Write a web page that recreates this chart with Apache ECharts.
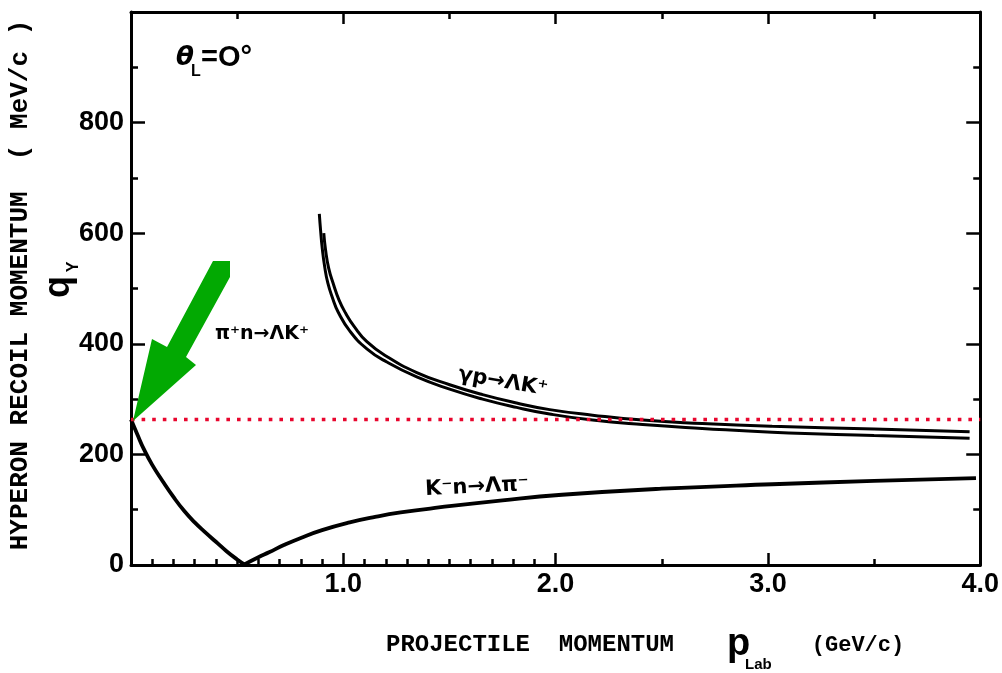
<!DOCTYPE html>
<html><head><meta charset="utf-8">
<script src="https://cdn.jsdelivr.net/npm/echarts@6/dist/echarts.min.js"></script>
<style>html,body{margin:0;padding:0;background:#fff}#c{width:1002px;height:673px}</style>
</head><body><div id="c"></div>
<script>
// ---- data ----
// K- n -> Lambda pi-
const kn_p = [0.00,0.03,0.06,0.10,0.15,0.20,0.25,0.30,0.35,0.40,0.45,0.50,0.534,0.60,0.65,0.72,0.80,0.90,1.03,1.15,1.27,1.45,1.75,2.03,2.50,3.02,3.50,3.98];
const kn_q = [263,236,210,181,151,123,98,77,59,42,25,10,1,14,23,36,49,63,77,87,95,104,117,127,138,146,152,157];
// pi+ n -> Lambda K+
const pin_p = [0.887,0.893,0.901,0.912,0.927,0.95,0.975,1.031,1.111,1.205,1.346,1.501,1.656,1.816,1.972,2.174,2.41,2.69,3.02,3.50,3.95];
const pin_q = [635,605,572,540,510,482,458,423,391,367,340,318,300,285,273,262,254,247,240,234,229];
// gamma p -> Lambda K+
const gp_p = [0.908,0.916,0.931,0.955,0.98,1.01,1.05,1.111,1.205,1.346,1.501,1.656,1.816,1.972,2.174,2.41,2.69,3.02,3.50,3.95];
const gp_q = [600,571,537,506,479,456,432,404,377,348,326,308,293,281,271,262,256,251,246,241];
// reference level (red dotted)
const ref_p = [0.0, 4.0];
const ref_q = [263, 263];
// axis ticks
const xMajorTicks = [0, 1.0, 2.0, 3.0, 4.0];
const xFineCats = Array.from({length: 41}, (_, i) => (i / 10).toFixed(1));
const yTicks = [0, 200, 400, 600, 800, 1000];

const zip = (a, b) => a.map((v, i) => [v, b[i]]);
const kMin = kn_q.indexOf(Math.min.apply(null, kn_q));

const chart = echarts.init(document.getElementById('c'), null, {renderer: 'canvas'});
const black = '#000';
const tickLbl = {color: black, fontFamily: 'Liberation Sans', fontWeight: 'bold', fontSize: 27};
const txt = (x, y, text, font, align, extra) => Object.assign({type: 'text', x: x, y: y, z: 50,
  style: {text: text, font: font, fill: black, textAlign: align, textVerticalAlign: 'middle', align: align, verticalAlign: 'middle'}}, extra || {});

const option = {
  backgroundColor: '#fff',
  animation: false,
  grid: {left: 131, right: 21, top: 12, bottom: 108},
  xAxis: [
    {type: 'value', position: 'bottom', min: xMajorTicks[0], max: xMajorTicks[xMajorTicks.length - 1], interval: 1,
     axisLine: {show: true, onZero: false, lineStyle: {color: black, width: 3}},
     axisTick: {show: true, inside: true, length: 12, lineStyle: {color: black, width: 2.5}},
     minorTick: {show: true, splitNumber: 2, length: 6, lineStyle: {color: black, width: 2.5}},
     splitLine: {show: false},
     axisLabel: Object.assign({margin: 6, formatter: v => v === 0 ? '' : v.toFixed(1)}, tickLbl)},
    {type: 'category', position: 'bottom', data: xFineCats, boundaryGap: false,
     axisLine: {show: false}, axisLabel: {show: false}, splitLine: {show: false},
     axisTick: {show: true, inside: true, length: 6, interval: (i) => i <= 20, lineStyle: {color: black, width: 2.5}}},
    {type: 'value', position: 'top', min: 0, max: 4, interval: 1,
     axisLine: {show: true, onZero: false, lineStyle: {color: black, width: 3}},
     axisTick: {show: true, inside: true, length: 12, lineStyle: {color: black, width: 2.5}},
     minorTick: {show: true, splitNumber: 2, length: 7, lineStyle: {color: black, width: 2.5}},
     splitLine: {show: false}, axisLabel: {show: false}}
  ],
  yAxis: [
    {type: 'value', position: 'left', min: yTicks[0], max: yTicks[yTicks.length - 1], interval: 200,
     axisLine: {show: true, onZero: false, lineStyle: {color: black, width: 3}},
     axisTick: {show: true, inside: true, length: 14, lineStyle: {color: black, width: 2.5}},
     minorTick: {show: true, splitNumber: 2, length: 7, lineStyle: {color: black, width: 2.5}},
     splitLine: {show: false},
     axisLabel: Object.assign({margin: 7, formatter: v => v >= 1000 ? '' : String(v)}, tickLbl)},
    {type: 'value', position: 'right', min: 0, max: 1000, interval: 200,
     axisLine: {show: true, onZero: false, lineStyle: {color: black, width: 3}},
     axisTick: {show: true, inside: true, length: 14, lineStyle: {color: black, width: 2.5}},
     minorTick: {show: true, splitNumber: 2, length: 7, lineStyle: {color: black, width: 2.5}},
     splitLine: {show: false}, axisLabel: {show: false}}
  ],
  series: [
    {name: 'K- n falling', type: 'line', data: zip(kn_p, kn_q).slice(0, kMin + 1), smooth: 0.5, showSymbol: false,
     lineStyle: {color: black, width: 3.8}, z: 3},
    {name: 'K- n rising', type: 'line', data: zip(kn_p, kn_q).slice(kMin), smooth: 0.5, showSymbol: false,
     lineStyle: {color: black, width: 3.8}, z: 3},
    {name: 'pi+ n', type: 'line', data: zip(pin_p, pin_q), smooth: 0.5, showSymbol: false,
     lineStyle: {color: black, width: 3}, z: 3},
    {name: 'gamma p', type: 'line', data: zip(gp_p, gp_q), smooth: 0.5, showSymbol: false,
     lineStyle: {color: black, width: 3}, z: 3},
    {name: 'ref', type: 'line', data: zip(ref_p, ref_q), showSymbol: false,
     lineStyle: {color: '#e8062e', width: 3.5, type: [3.6, 7], cap: 'butt'}, z: 5}
  ],
  graphic: [
    // green arrow annotation
    {type: 'polygon', z: 50, shape: {points: [[213,261],[230,261],[230,277],[186,357],[196,365],[133,421],[152,339],[167,347]]},
     style: {fill: '#02a902'}},
    // theta_L = 0
    txt(176, 58, 'θ', 'italic bold 26px "DejaVu Sans"', 'left'),
    txt(191, 72, 'L', 'bold 16px "Liberation Sans"', 'left'),
    txt(201, 58, '=O°', 'bold 29px "Liberation Sans"', 'left'),
    // reaction labels
    txt(262, 334, 'π⁺n→ΛK⁺', 'bold 19px "DejaVu Sans"', 'center'),
    txt(503, 382, 'γp→ΛK⁺', 'bold 21px "DejaVu Sans"', 'center', {rotation: -0.17}),
    txt(477, 487, 'K⁻n→Λπ⁻', 'bold 21px "DejaVu Sans"', 'center', {rotation: 0.05}),
    // y axis titles
    txt(20, 285, 'HYPERON RECOIL MOMENTUM  ( MeV/c )', 'bold 26px "Liberation Mono"', 'center', {rotation: Math.PI / 2}),
    txt(59, 287, 'q', 'bold 36px "Liberation Sans"', 'center', {rotation: Math.PI / 2}),
    txt(74, 267, 'Y', 'bold 16px "Liberation Sans"', 'center', {rotation: Math.PI / 2}),
    // x axis titles
    txt(530, 645, 'PROJECTILE  MOMENTUM', 'bold 24px "Liberation Mono"', 'center'),
    txt(727, 645, 'p', 'bold 38px "Liberation Sans"', 'left'),
    txt(745, 665, 'Lab', 'bold 15px "Liberation Sans"', 'left'),
    txt(858, 645, '(GeV/c)', 'bold 22px "Liberation Mono"', 'center')
  ]
};
chart.setOption(option);
</script>
</body></html>
